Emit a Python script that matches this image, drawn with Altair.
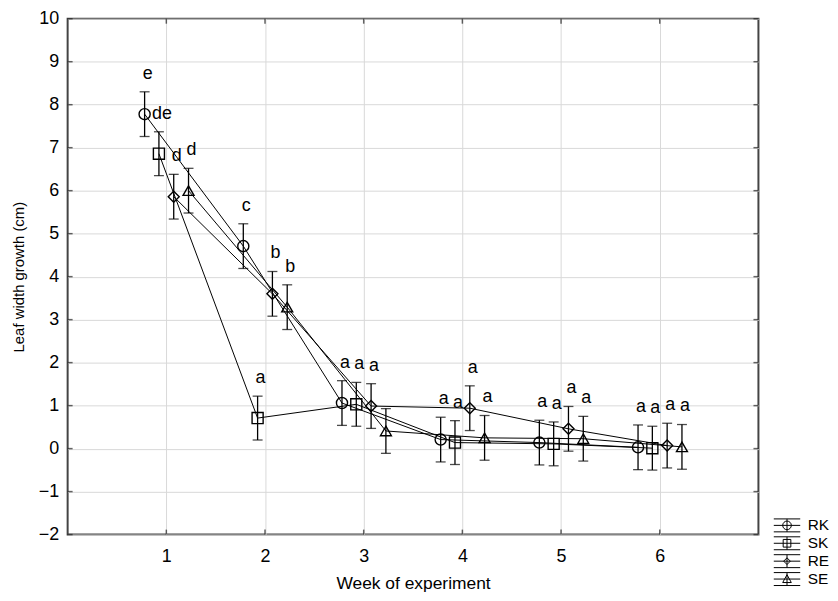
import altair as alt
import pandas as pd

# ---- data ----
weeks = [1, 2, 3, 4, 5, 6]
series = ["RK", "SK", "RE", "SE"]
rk = [7.78, 4.71, 1.06, 0.21, 0.14, 0.03]
sk = [6.86, 0.71, 1.03, 0.14, 0.11, 0.01]
re_ = [5.86, 3.60, 0.99, 0.94, 0.46, 0.07]
se = [6.00, 3.29, 0.41, 0.25, 0.23, 0.04]
rk_err = [0.52, 0.52, 0.52, 0.52, 0.52, 0.52]
sk_err = [0.51, 0.51, 0.51, 0.51, 0.51, 0.51]
re_err = [0.52, 0.52, 0.52, 0.52, 0.52, 0.52]
se_err = [0.52, 0.52, 0.52, 0.52, 0.52, 0.52]
rk_let = ["e", "c", "a", "a", "a", "a"]
sk_let = ["de", "a", "a", "a", "a", "a"]
re_let = ["d", "b", "a", "a", "a", "a"]
se_let = ["d", "b", "", "a", "a", "a"]
y_ticks = list(range(-2, 11))
x_ticks = [1, 2, 3, 4, 5, 6]

dodge = {"RK": -0.22, "SK": -0.075, "RE": 0.075, "SE": 0.225}

rows = []
for name, vals, errs, lets in [("RK", rk, rk_err, rk_let), ("SK", sk, sk_err, sk_let),
                               ("RE", re_, re_err, re_let), ("SE", se, se_err, se_let)]:
    for w, v, e, l in zip(weeks, vals, errs, lets):
        rows.append({"series": name, "week": w, "value": v, "err": e, "letter": l})
df = pd.DataFrame(rows)
df["xpos"] = df["week"] + df["series"].map(dodge)
df["lo"] = df["value"] - df["err"]
df["hi"] = df["value"] + df["err"]
df["ly"] = df["hi"] + 0.42

W, H = 695, 519
FONT = "Liberation Sans"

xs = alt.Scale(domain=[0, 7], nice=False, zero=False)
ys = alt.Scale(domain=[-2, 10], nice=False, zero=False)

X = alt.X("xpos:Q", scale=xs,
          axis=alt.Axis(values=x_ticks, ticks=False, labelPadding=13, title="Week of experiment",
                        titlePadding=9, titleFontSize=17.5, grid=True, format="d"))
Y = alt.Y("value:Q", scale=ys,
          axis=alt.Axis(values=y_ticks, ticks=False, labelPadding=9, title="Leaf width growth (cm)",
                        titlePadding=12, titleFontSize=15, grid=True, format="d"))

base = alt.Chart(df)

lines = base.mark_line(color="black", strokeWidth=1).encode(
    x=X, y=Y, detail="series:N", order="week:Q")

rules = base.mark_rule(color="black", strokeWidth=1.3).encode(
    x="xpos:Q", y="lo:Q", y2="hi:Q")
cap_lo = base.mark_tick(orient="horizontal", color="black", size=10, thickness=1.3).encode(
    x="xpos:Q", y="lo:Q")
cap_hi = base.mark_tick(orient="horizontal", color="black", size=10, thickness=1.3).encode(
    x="xpos:Q", y="hi:Q")

shape_scale = alt.Scale(domain=series, range=["circle", "square", "diamond", "triangle-up"])
size_scale = alt.Scale(domain=series, range=[125, 121, 64, 140])
points = base.mark_point(filled=False, color="black", strokeWidth=1.4, opacity=1).encode(
    x="xpos:Q", y="value:Q",
    shape=alt.Shape("series:N", scale=shape_scale, legend=None),
    size=alt.Size("series:N", scale=size_scale, legend=None))

letters = base.mark_text(font=FONT, fontSize=18, color="black", baseline="middle", dx=3).encode(
    x="xpos:Q", y="ly:Q", text="letter:N")

# legend glyphs: error-bar style symbols (custom paths in the [-1,1] unit box)
frame = "M-1.9,-0.93H1.9M-1.9,0.93H1.9M-1.9,0H1.9M0,-0.93V0.93"
glyphs = [
    frame + "M0.62,0A0.62,0.62 0 1,1 -0.62,0A0.62,0.62 0 1,1 0.62,0",
    frame + "M-0.55,-0.55H0.55V0.55H-0.55Z",
    frame + "M0,-0.48L0.48,0L0,0.48L-0.48,0Z",
    frame + "M0,-0.62L0.62,0.5H-0.62Z",
]
legend_layer = base.transform_filter("false").mark_point(
    filled=False, color="black", strokeWidth=1, opacity=1).encode(
    x="xpos:Q", y="value:Q",
    shape=alt.Shape("series:N", scale=alt.Scale(domain=series, range=glyphs),
                    legend=alt.Legend(title=None, orient="none", legendX=716, legendY=502,
                                      symbolSize=196, symbolStrokeWidth=1,
                                      symbolStrokeColor="black", symbolFillColor="transparent",
                                      labelFont=FONT, labelFontSize=15.5, labelColor="black",
                                      labelOffset=13, rowPadding=0, padding=0)))

# inward ticks on all four sides
ydf = pd.DataFrame({"t": y_ticks})
xdf = pd.DataFrame({"t": x_ticks})
tk = dict(color="#222", thickness=1.5, size=5)
tick_l = alt.Chart(ydf).mark_tick(orient="horizontal", **tk).encode(x=alt.value(2.5), y=alt.Y("t:Q", scale=ys))
tick_r = alt.Chart(ydf).mark_tick(orient="horizontal", **tk).encode(x=alt.value(W - 2.5), y=alt.Y("t:Q", scale=ys))
tick_b = alt.Chart(xdf).mark_tick(orient="vertical", **tk).encode(x=alt.X("t:Q", scale=xs), y=alt.value(H - 2.5))
tick_t = alt.Chart(xdf).mark_tick(orient="vertical", **tk).encode(x=alt.X("t:Q", scale=xs), y=alt.value(2.5))

chart = alt.layer(lines, rules, cap_lo, cap_hi, points, letters, legend_layer,
                  tick_l, tick_r, tick_b, tick_t).resolve_scale(
    shape="independent", size="independent").properties(
    width=W, height=H, padding={"left": 3, "top": 0, "right": 0, "bottom": 0}
).configure_view(stroke="#444", strokeWidth=2).configure_axis(
    gridColor="#d9d9d9", gridWidth=1, domain=False,
    labelFont=FONT, labelFontSize=18, labelColor="black",
    titleFont=FONT, titleColor="black", titleFontWeight="normal")

chart.save("out.html", embed_options={"renderer": "svg", "actions": False})
